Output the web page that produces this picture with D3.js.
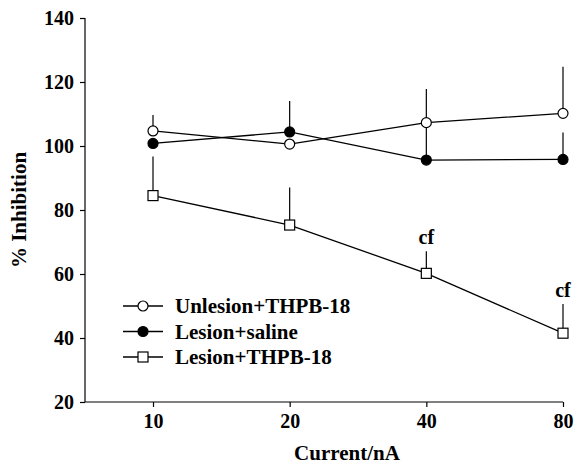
<!DOCTYPE html>
<html><head><meta charset="utf-8">
<script src="https://cdn.jsdelivr.net/npm/d3@7"></script>
<style>body{margin:0;background:#fff}svg{display:block}text{font-family:"Liberation Serif","Times New Roman",serif;font-weight:bold;fill:#000}</style>
</head><body><svg id="c" width="575" height="465"></svg>
<script>
const categories = ["10", "20", "40", "80"];
const yTicks = [20, 40, 60, 80, 100, 120, 140];
const seriesNames = ["Unlesion+THPB-18", "Lesion+saline", "Lesion+THPB-18"];
const unlesionThpb = [104.7, 100.6, 107.3, 110.2];
const unlesionThpbErr = [5.0, 0, 10.5, 14.6];
const lesionSaline = [100.8, 104.4, 95.6, 95.8];
const lesionSalineErr = [0, 9.7, 11.5, 8.4];
const lesionThpb = [84.5, 75.3, 60.2, 41.5];
const lesionThpbErr = [12.2, 11.7, 6.9, 9.1];
const annotations = ["", "", "cf", "cf"];

const svg = d3.select("#c");
const x = d3.scalePoint().domain(categories).range([153, 563]);
const y = d3.scaleLinear().domain([20, 140]).range([402, 18]);
const axisLeft = 85, axisBottom = 402;

// axes
const gy = svg.append("g").attr("transform", `translate(${axisLeft},0)`)
  .call(d3.axisLeft(y).tickValues(yTicks).tickSize(5).tickPadding(6));
const gx = svg.append("g").attr("transform", `translate(0,${axisBottom})`)
  .call(d3.axisBottom(x).tickSize(5).tickPadding(7));
gx.select(".domain").remove();
gx.append("line").attr("x1", axisLeft).attr("x2", x("80")).attr("stroke", "#000").attr("stroke-width", 1.2);
[gx, gy].forEach(g => {
  g.selectAll("path.domain").attr("stroke", "#000").attr("stroke-width", 1.2);
  g.selectAll(".tick line").attr("stroke", "#000").attr("stroke-width", 1.2);
  g.selectAll(".tick text").style("font-size", "20px").style("font-family", "Liberation Serif").style("font-weight", "bold").attr("fill", "#000");
});
gy.select(".domain").attr("d", `M0,${y(140)}V${y(20)}`);

svg.append("text").attr("x", 347).attr("y", 460).attr("text-anchor", "middle").style("font-size", "21px").text("Current/nA");
svg.append("text").attr("transform", `translate(26,210) rotate(-90)`).attr("text-anchor", "middle").style("font-size", "21px").text("% Inhibition");

const series = [
  {vals: unlesionThpb, err: unlesionThpbErr, marker: "circle", fill: "#fff"},
  {vals: lesionSaline, err: lesionSalineErr, marker: "circle", fill: "#000"},
  {vals: lesionThpb, err: lesionThpbErr, marker: "square", fill: "#fff"}
];
const line = d3.line().x((d, i) => x(categories[i])).y(d => y(d));

series.forEach(s => {
  svg.append("path").attr("d", line(s.vals)).attr("fill", "none").attr("stroke", "#000").attr("stroke-width", 1.3);
});
series.forEach(s => {
  s.vals.forEach((v, i) => {
    if (s.err[i] > 0) svg.append("line").attr("x1", x(categories[i])).attr("x2", x(categories[i]))
      .attr("y1", y(v)).attr("y2", y(v + s.err[i])).attr("stroke", "#000").attr("stroke-width", 1.2);
  });
});
function drawMarker(g, type, cx, cy, fill) {
  if (type === "circle") g.append("circle").attr("cx", cx).attr("cy", cy).attr("r", 5).attr("fill", fill).attr("stroke", "#000").attr("stroke-width", 1.2);
  else g.append("rect").attr("x", cx - 5).attr("y", cy - 5).attr("width", 10).attr("height", 10).attr("fill", fill).attr("stroke", "#000").attr("stroke-width", 1.2);
}
series.forEach(s => s.vals.forEach((v, i) => drawMarker(svg, s.marker, x(categories[i]), y(v), s.fill)));

annotations.forEach((a, i) => {
  if (!a) return;
  const v = lesionThpb[i] + lesionThpbErr[i];
  svg.append("text").attr("x", x(categories[i])).attr("y", y(v) - 7).attr("text-anchor", "middle").style("font-size", "20px").text(a);
});

// legend
const lg = svg.append("g");
series.forEach((s, i) => {
  const ly = 306 + i * 25.5;
  lg.append("line").attr("x1", 123).attr("x2", 163).attr("y1", ly).attr("y2", ly).attr("stroke", "#000").attr("stroke-width", 1.3);
  drawMarker(lg, s.marker, 143, ly, s.fill);
  lg.append("text").attr("x", 175).attr("y", ly + 7).style("font-size", "21px").text(seriesNames[i]);
});
</script></body></html>
